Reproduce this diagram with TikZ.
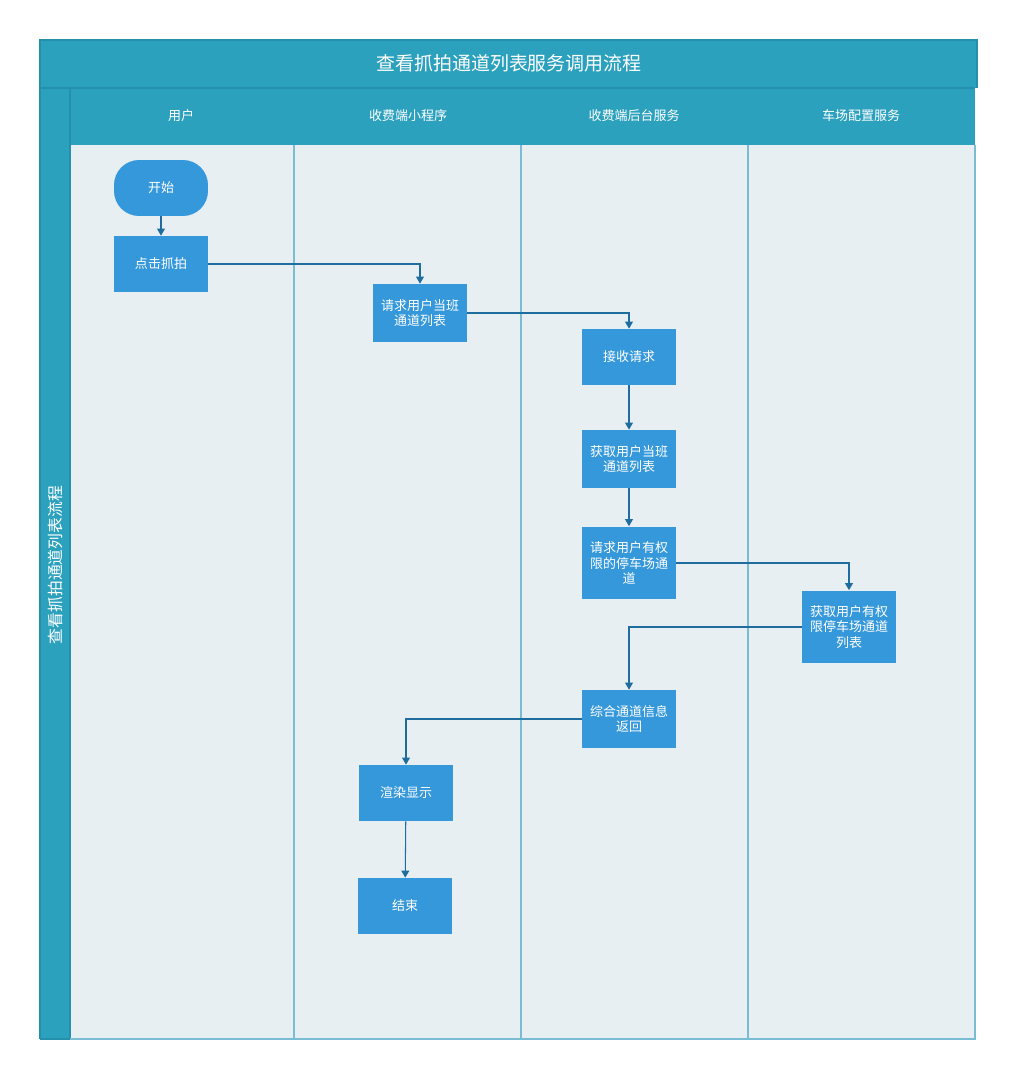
\documentclass[tikz,border=0pt]{standalone}
\usepackage{fontspec}
\setmainfont{Noto Sans CJK SC}
\usetikzlibrary{arrows.meta, calc}
\definecolor{laneteal}{HTML}{2CA1BE}
\definecolor{laneedge}{HTML}{2590AC}
\definecolor{laneback}{HTML}{E7EFF3}
\definecolor{laneline}{HTML}{7BBCD5}
\definecolor{boxblue}{HTML}{3598DB}
\definecolor{flowblue}{HTML}{1F6C9E}

\begin{document}
\begin{tikzpicture}[x=0.02cm, y=-0.02cm,
    stepbox/.style={fill=boxblue, text=white, inner sep=0pt, minimum width=1.88cm,
        minimum height=1.12cm, align=center, font=\fontsize{7.4pt}{8.6pt}\selectfont},
    startbox/.style={stepbox, rounded corners=0.5cm},
    tallbox/.style={stepbox, minimum height=1.46cm},
    midbox/.style={stepbox, minimum height=1.16cm},
    flow/.style={draw=flowblue, line width=0.6pt, -{Triangle[length=4pt, width=4.5pt]}},
    lanelabel/.style={text=white, font=\fontsize{7.4pt}{8.6pt}\selectfont}]
            \useasboundingbox (0,0) rectangle (1015,1077);
            \fill[laneteal] (40,40) rectangle (977,88);
            \fill[laneteal] (40,88) rectangle (975,145);
            \fill[laneteal] (40,88) rectangle (70,1039);
            \fill[laneback] (70,145) rectangle (975,1039);
            \draw[laneedge, line width=0.6pt] (40,1039) -- (40,40) -- (977,40) -- (977,88);
            \draw[laneedge, line width=0.6pt] (40,88) -- (975,88);
            \draw[laneedge, line width=0.6pt] (70,88) -- (70,1039) -- (40,1039);
            \foreach \x in {294,521,748}
                \draw[laneline, line width=0.6pt] (\x,145) -- (\x,1039);
            \draw[laneline, line width=0.6pt] (70,1039) -- (975,1039) -- (975,145);

            \node[text=white, font=\fontsize{10.8pt}{12pt}\selectfont] (title) at (509,63) {查看抓拍通道列表服务调用流程};
            \node[text=white, rotate=90, font=\fontsize{9pt}{10pt}\selectfont] (pooltitle) at (55,565) {查看抓拍通道列表流程};
            \node[lanelabel] (laneuser) at (181,116) {用户};
            \node[lanelabel] (laneapp) at (408,116) {收费端小程序};
            \node[lanelabel] (laneserver) at (634,116) {收费端后台服务};
            \node[lanelabel] (laneconfig) at (861,116) {车场配置服务};

            \node[startbox] (start) at (161,188) {开始};
            \node[stepbox] (click) at (161,264) {点击抓拍};
            \node[midbox] (req) at (420,313) {请求用户当班\\通道列表};
            \node[stepbox] (recv) at (629,357) {接收请求};
            \node[midbox] (getlist) at (629,459) {获取用户当班\\通道列表};
            \node[tallbox] (reqperm) at (629,563) {请求用户有权\\限的停车场通\\道};
            \node[tallbox] (getperm) at (849,627) {获取用户有权\\限停车场通道\\列表};
            \node[midbox] (merge) at (629,719) {综合通道信息\\返回};
            \node[stepbox] (render) at (406,793) {渲染显示};
            \node[stepbox] (finish) at (405,906) {结束};

            \draw[flow] (start) -- (click);
            \draw[flow] (click.east) -| (req.north);
            \draw[flow] (req.east) -| (recv.north);
            \draw[flow] (recv) -- (getlist);
            \draw[flow] (getlist) -- (reqperm);
            \draw[flow] (reqperm.east) -| (getperm.north);
            \draw[flow] (getperm.west) -| (merge.north);
            \draw[flow] (merge.west) -| (render.north);
            \draw[flow] (render) -- (finish);
        \end{tikzpicture}
\end{document}
